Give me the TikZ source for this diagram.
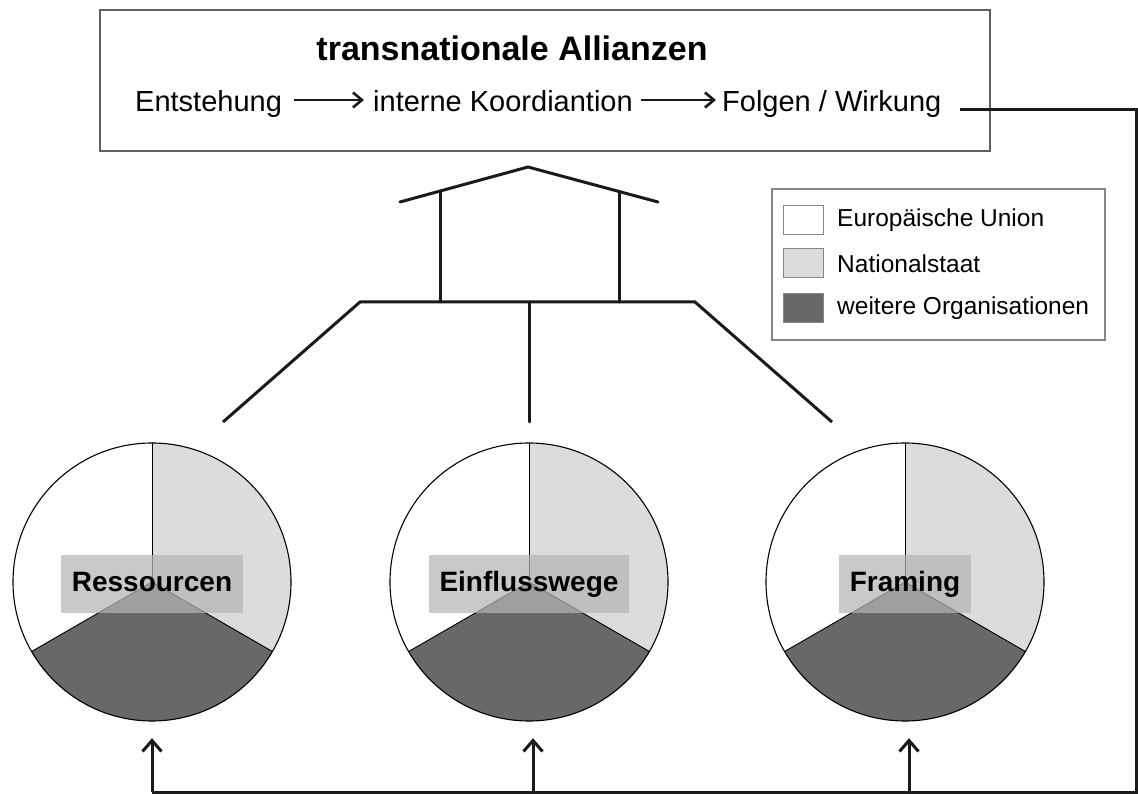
\documentclass[tikz,border=0pt]{standalone}
\usepackage{fontspec}
\setmainfont{Liberation Sans}
\usetikzlibrary{arrows.meta}
\definecolor{lightg}{HTML}{DCDCDC}
\definecolor{darkg}{HTML}{686868}
\definecolor{lineg}{HTML}{1A1A1A}
\definecolor{overlayg}{HTML}{B5B5B5}
\definecolor{boxg}{HTML}{606060}
\definecolor{legg}{HTML}{858585}
\begin{document}
\begin{tikzpicture}[x=1pt,y=1pt,
  thickline/.style={line width=3pt, draw=lineg, line cap=round},
  uparrow/.style={line width=3pt, draw=lineg, -{Straight Barb[length=11pt,width=19pt,line width=3pt]}},
  textarrow/.style={line width=2.6pt, draw=lineg, -{Straight Barb[length=9pt,width=15pt,line width=2.6pt]}},
  rowtext/.style={inner sep=0pt, anchor=base west, font=\fontsize{29}{32}\selectfont},
  legtext/.style={inner sep=0pt, anchor=west, font=\fontsize{24.5}{28}\selectfont},
  swatch/.style={draw=legg, line width=1pt, minimum width=40pt, minimum height=29pt, inner sep=0pt},
  piebase/.style={circle, minimum size=278pt, inner sep=0pt},
  sector/.style={draw=black, line width=0.9pt},
  labelbox/.style={fill=overlayg, fill opacity=0.72, text opacity=1, inner xsep=10.5pt, inner ysep=17pt,
     text height=20pt, text depth=4pt, font=\fontsize{28}{32}\selectfont\bfseries}
]
\useasboundingbox (0,0) rectangle (1138,793);

% top box
\node[draw=boxg, line width=1.6pt, minimum width=890pt, minimum height=141pt, inner sep=0pt] (topbox) at (545,712.5) {};
\node[inner sep=0pt, anchor=base, font=\fontsize{34}{38}\selectfont\bfseries] (title) at (512,732) {transnationale Allianzen};
\node[rowtext] (ent) at (135,681) {Entstehung};
\node[rowtext] (koord) at (373,681) {interne Koordiantion};
\node[rowtext] (wirk) at (722,681) {Folgen / Wirkung};
\draw[textarrow] ([xshift=12pt,yshift=12pt]ent.base east) -- ([xshift=-9pt,yshift=12pt]koord.base west);
\draw[textarrow] ([xshift=8pt,yshift=12pt]koord.base east) -- ([xshift=-6pt,yshift=12pt]wirk.base west);

% roof structure
\coordinate (rl) at (400,591);
\coordinate (rp) at (528,626);
\coordinate (rr) at (658,591);
\draw[thickline] (rl) -- (rp) -- (rr);
\coordinate (hl) at (360,491);
\coordinate (hr) at (695,491);
\draw[thickline] (440,602) -- (440,491);
\draw[thickline] (619,601.5) -- (619,491);
\draw[thickline, line cap=butt] (223,371) -- (hl) -- (hr) -- (832,371);
\draw[thickline] (529,491) -- (529,371);

% legend
\node[draw=legg, line width=1.2pt, minimum width=333pt, minimum height=151pt, inner sep=0pt] (legend) at (938.5,528.5) {};
\node[swatch, fill=white] (s1) at (803,572.5) {};
\node[swatch, fill=lightg] (s2) at (803,529.5) {};
\node[swatch, fill=darkg] (s3) at (803,484.5) {};
\node[legtext] (t1) at (837,572.5) {Europäische Union};
\node[legtext] (t2) at (837,529.5) {Nationalstaat};
\node[legtext] (t3) at (837,484.5) {weitere Organisationen};

% pies
\foreach \n/\x/\lab in {pa/152/Ressourcen, pb/529/Einflusswege, pc/905/Framing} {
  \node[piebase] (\n) at (\x,211) {};
  \fill[white] (\n.center) -- ++(90:139) arc (90:210:139) -- cycle;
  \fill[lightg] (\n.center) -- ++(-30:139) arc (-30:90:139) -- cycle;
  \fill[darkg] (\n.center) -- ++(210:139) arc (210:330:139) -- cycle;
  \draw[sector] (\n.center) -- ++(90:139);
  \draw[sector] (\n.center) -- ++(210:139);
  \draw[sector] (\n.center) -- ++(330:139);
  \draw[line width=1.1pt] (\n.center) circle (139);
  \node[labelbox] (l\n) at ([yshift=-2pt]\n.center) {\lab};
}

% feedback line
\coordinate (fstart) at ([xshift=18pt,yshift=2pt]wirk.base east);
\coordinate (fcorner) at (1136,683);
\coordinate (fbottom) at (1136,1);
\coordinate (ba) at (152,1);
\coordinate (bb) at (533,1);
\coordinate (bc) at (909,1);
\draw[thickline, line cap=butt] (fstart) -- (fcorner) -- (fbottom) -- (ba);
\draw[uparrow] (ba) -- ([yshift=-17pt]pa.south);
\draw[uparrow] (bb) -- ([xshift=4pt,yshift=-17pt]pb.south);
\draw[uparrow] (bc) -- ([xshift=4pt,yshift=-17pt]pc.south);
\end{tikzpicture}
\end{document}
